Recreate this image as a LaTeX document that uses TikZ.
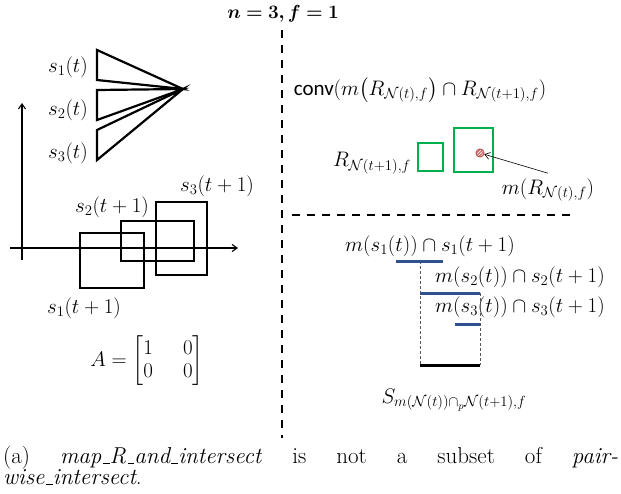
\RequirePackage{fix-cm}
\documentclass[tikz,border=0pt]{standalone}
\usepackage{amsmath}
\usepackage{bm}
\usepackage{fontspec}
\newfontfamily\calibri{Carlito}
\usepackage{tikz}
\usetikzlibrary{arrows.meta,positioning,patterns}
\definecolor{rgreen}{RGB}{0,176,80}
\definecolor{segblue}{RGB}{47,82,143}
\definecolor{mred}{RGB}{192,80,77}
\newcommand{\us}{\leavevmode\kern.06em\vbox{\hrule width.3em}}

\begin{document}
\begin{tikzpicture}[
  x=1pt, y=-1pt,
  outline/.style={draw=black, line width=2.2pt},
  axis/.style={-{Straight Barb[length=5pt,width=7pt]}, line width=1.1pt},
  sep/.style={line width=2.5pt, dash pattern=on 8pt off 7pt},
  lbl/.style={font=\fontsize{21}{23}\selectfont, inner sep=1pt},
  region/.style={draw=rgreen, line width=2.2pt},
  seg/.style={draw=segblue, line width=3pt},
  guide/.style={draw=gray!70!black, densely dashed, line width=0.6pt},
  pointer/.style={-{Straight Barb[length=5pt,width=7pt]}, line width=0.6pt}
]
\useasboundingbox (0,0) rectangle (621,493);

% title and separators
\node[lbl, font=\fontsize{19}{20}\selectfont] (title) at (283,14) {$\bm{n=3,f=1}$};
\draw[sep] (282,30) -- (282,438);
\draw[sep] (292,215) -- (573,215);

% left: states at time t
\coordinate (apex) at (183,89);
\foreach \y in {50,90,130}
  \draw[outline] (97,\y) -- (97,\y+30) -- (apex) -- cycle;
\node[lbl, anchor=east] (s1t) at (89,67) {$s_1(t)$};
\node[lbl, anchor=east] (s2t) at (89,110) {$s_2(t)$};
\node[lbl, anchor=east] (s3t) at (89,153) {$s_3(t)$};

% left: axes and states at time t+1
\draw[axis] (22,260) -- (22,103);
\draw[axis] (10,248) -- (238,248);
\draw[outline] (80,233) rectangle (144,288);
\draw[outline] (121,221) rectangle (194,261);
\draw[outline] (156,202) rectangle (207,275);
\node[lbl] (s1n) at (84,308) {$s_1(t+1)$};
\node[lbl] (s2n) at (112,207) {$s_2(t+1)$};
\node[lbl] (s3n) at (217,186) {$s_3(t+1)$};
\node[lbl] (mat) at (147,361)
  {$A=\arraycolsep=15pt\begin{bmatrix}1&0\\0&0\end{bmatrix}$};

% right top: map R and intersect
\node[lbl] (conv) at (420,90)
  {$\text{\calibri conv}(m\big(R_{\mathcal{N}(t),f}\big)\cap R_{\mathcal{N}(t+1),f})$};
\draw[region] (418,143) rectangle (443,171);
\draw[region] (454,128) rectangle (493,172);
\node[lbl] (rnext) at (372,163) {$R_{\mathcal{N}(t+1),f}$};
\node[circle, draw=mred, line width=1pt, minimum size=8pt, inner sep=0pt,
      preaction={fill=mred!80}, pattern=north east lines,
      pattern color=white] (mid) at (480,153) {};
\node[lbl] (mr) at (548,190) {$m(R_{\mathcal{N}(t),f})$};
\draw[pointer] ([yshift=4pt]mr.north) -- (mid);

% right bottom: pairwise intersect
\node[lbl] (p1) at (430,246) {$m(s_1(t))\cap s_1(t+1)$};
\node[lbl] (p2) at (520,277) {$m(s_2(t))\cap s_2(t+1)$};
\node[lbl] (p3) at (520,307) {$m(s_3(t))\cap s_3(t+1)$};
\draw[guide] (420,261) -- (420,365);
\draw[guide] (480,293) -- (480,365);
\draw[seg] (396,261) -- (443,261);
\draw[seg] (420,293) -- (480,293);
\draw[seg] (455,324) -- (480,324);
\draw[line width=3pt] (420,365) -- (480,365);
\node[lbl] (spw) at (454,400) {$S_{m(\mathcal{N}(t))\cap_p\mathcal{N}(t+1),f}$};

% caption
\node[font=\fontsize{23}{21}\selectfont, text width=615pt, align=justify,
      inner sep=0pt, anchor=north west] (cap) at (3,446)
  {(a) \textit{map\us R\us and\us intersect} is not a subset of
   \textit{pair-}\linebreak\textit{wise\us intersect}.};
\end{tikzpicture}
\end{document}
